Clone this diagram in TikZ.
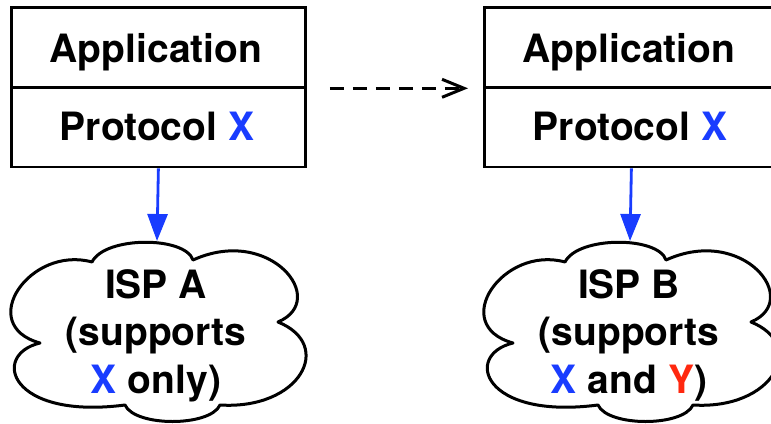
\documentclass[tikz,border=0pt]{standalone}
\usepackage{fontspec}
\setmainfont{TeX Gyre Heros}
\usetikzlibrary{arrows.meta}
\definecolor{xblue}{RGB}{25,60,255}
\definecolor{yred}{RGB}{255,40,15}
\begin{document}
\begin{tikzpicture}[x=1pt,y=-1pt,
  box/.style={draw, line width=2.8pt, minimum width=294pt, minimum height=79.5pt, inner sep=0pt, anchor=north west},
  txt/.style={font=\bfseries\fontsize{39}{46}\selectfont, anchor=base, inner sep=0pt},
  cloudline/.style={draw, line width=3pt, line join=round},
  downarrow/.style={draw=xblue, line width=2.8pt, -{Triangle[length=27pt,width=20pt,fill=xblue]}},
  dashline/.style={draw, line width=3pt, dash pattern=on 14pt off 9pt, -{Straight Barb[length=22pt,width=18pt]}},
  ispcloud/.pic={
    \path[cloudline] (193,260)
      .. controls (185,236) and (105,236) .. (92,262)
      .. controls (30,245) and (-25,325) .. (40,343)
      .. controls (-10,355) and (10,420) .. (125,405)
      .. controls (135,427) and (210,427) .. (220,405)
      .. controls (300,410) and (335,345) .. (278,322)
      .. controls (330,300) and (270,225) .. (193,260) -- cycle;
  }]
\useasboundingbox (0,0) rectangle (771,423);
\clip (0,0) rectangle (771,423);
% left stack
\node[box] (appA) at (10,6) {};
\node[box] (protoA) at (10,86) {};
\node[txt] (appAt) at (156,62) {Application};
\node[txt] (protoAt) at (157,140) {Protocol \textcolor{xblue}{X}};
% right stack
\node[box] (appB) at (483,6) {};
\node[box] (protoB) at (483,86) {};
\node[txt] (appBt) at (629,62) {Application};
\node[txt] (protoBt) at (630,140) {Protocol \textcolor{xblue}{X}};
% clouds
\pic at (0,0) {ispcloud};
\pic at (473,0) {ispcloud};
\coordinate (topA) at (157,241);
\coordinate (topB) at (630,241);
\node[txt] (ispA1) at (156,298) {ISP A};
\node[txt] (ispA2) at (156,345.5) {(supports};
\node[txt] (ispA3) at (156,393) {\textcolor{xblue}{X} only)};
\node[txt] (ispB1) at (629,298) {ISP B};
\node[txt] (ispB2) at (629,345.5) {(supports};
\node[txt] (ispB3) at (629,393) {\textcolor{xblue}{X} and \textcolor{yred}{Y})};
% connectors
\path[downarrow] (protoA.south) -- (topA);
\path[downarrow] (protoB.south) -- (topB);
\path[dashline] ([xshift=23pt]appA.south east) -- ([xshift=-15pt]appB.south west);
\end{tikzpicture}
\end{document}
